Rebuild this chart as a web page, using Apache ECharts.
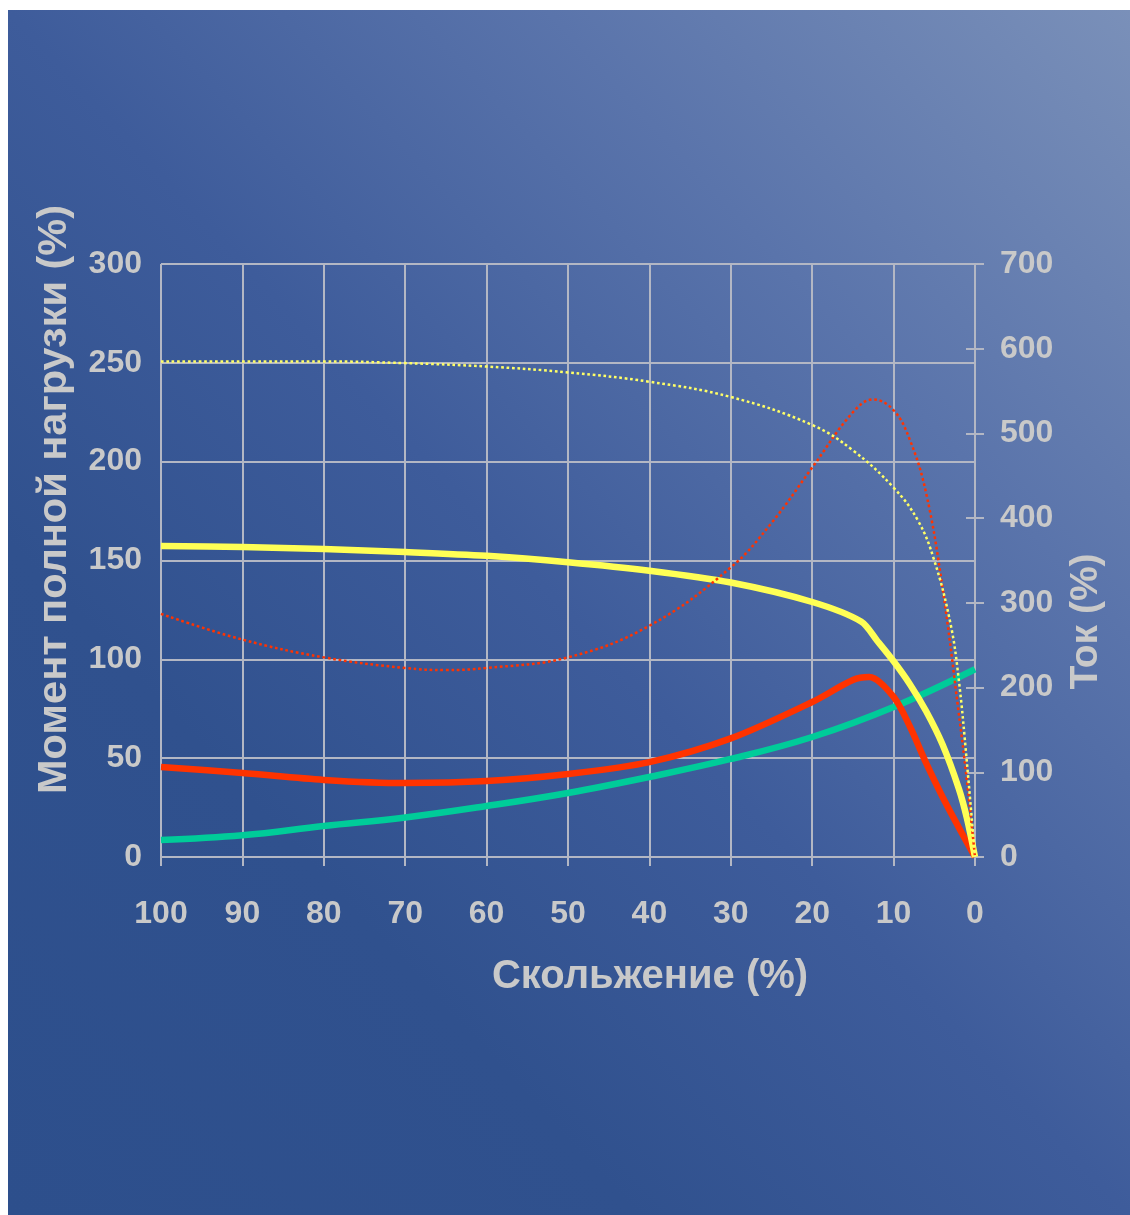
<!DOCTYPE html>
<html>
<head>
<meta charset="utf-8">
<script src="https://cdn.jsdelivr.net/npm/echarts@6/dist/echarts.min.js"></script>
<style>
  html, body { margin: 0; padding: 0; background: #ffffff; }
  #bg {
    position: absolute; left: 8px; top: 10px; width: 1122px; height: 1205px;
    background: linear-gradient(to top right, #2d4f8c 0%, #30518e 28%, #3e5c9b 50%, #5a74ab 74%, #7a90b9 100%);
  }
  #chart { position: absolute; left: 0; top: 0; width: 1130px; height: 1215px; }
</style>
</head>
<body>
<div id="bg"></div>
<div id="chart"></div>
<script>
// Load torque (%), left axis - green
const slipLoad = [100, 90, 80, 70, 60, 50, 40, 30, 20, 10, 0];
const loadTorque = [8.6, 11, 15.7, 20, 25.8, 32.4, 40.5, 49.6, 60.7, 75.9, 95];

// Torque with soft start (%), left axis - red solid
const slipTorqueSoft = [100, 90, 80, 70, 60, 50, 40, 30, 20, 15, 13, 10, 8, 6, 4, 2, 0];
const torqueSoft = [45.5, 42.5, 39, 37.4, 38.4, 42, 48, 60, 78.4, 89.5, 91, 81, 66, 47.5, 30.5, 15, 0];

// Current with soft start (%), right axis - yellow solid
const slipCurrentSoft = [100, 90, 80, 70, 60, 50, 40, 30, 20, 14, 12, 10, 8, 6, 4, 2, 1, 0];
const currentSoft = [367, 366, 363.5, 360, 355.5, 348, 338, 324, 301, 278, 255, 231, 204, 172, 133, 81, 46, 0];

// Torque at full voltage (%), left axis - red dotted
const slipTorqueDOL = [100, 90, 80, 70, 65, 60, 50, 40, 30, 25, 20, 15, 12.5, 10, 8, 6, 4, 2, 1, 0];
const torqueDOL = [123, 110, 101, 95.6, 94.6, 95.6, 101, 117, 146.5, 169, 197, 225, 231.5, 226, 211, 184, 136.5, 73, 39, 0];

// Current at full voltage (%), right axis - yellow dotted
const slipCurrentDOL = [100, 90, 80, 70, 60, 50, 40, 30, 20, 15, 10, 7, 5, 3, 2, 1, 0];
const currentDOL = [585, 585, 585, 583, 579, 572, 561, 543, 510, 480, 436, 397, 350, 275, 210, 112, 0];

const leftTicks = ['0', '50', '100', '150', '200', '250', '300'];
const rightTicks = ['0', '100', '200', '300', '400', '500', '600', '700'];

const pair = (xs, vals) => xs.map((s, i) => [s, vals[i]]);

const gridColor = '#b3b7c4';
const textColor = '#c9c9c9';
const fontFam = '"Liberation Sans", Arial, sans-serif';

const chart = echarts.init(document.getElementById('chart'), null, { renderer: 'canvas' });
chart.setOption({
  backgroundColor: 'transparent',
  animation: false,
  grid: { left: 161, right: 155, top: 264, bottom: 358, containLabel: false },
  xAxis: {
    type: 'value', inverse: true, min: 0, max: 100, interval: 10,
    name: 'Скольжение (%)', nameLocation: 'middle', nameGap: 100,
    nameTextStyle: { color: textColor, fontSize: 40, fontWeight: 'bold', fontFamily: fontFam, padding: [0, 0, 0, 164] },
    axisLine: { show: true, lineStyle: { color: gridColor, width: 2 } },
    axisTick: { show: true, length: 9, lineStyle: { color: gridColor, width: 2 } },
    splitLine: { show: true, lineStyle: { color: gridColor, width: 2 } },
    axisLabel: { color: textColor, fontSize: 32, fontWeight: 'bold', fontFamily: fontFam, margin: 41 }
  },
  yAxis: [
    {
      type: 'value', position: 'left', min: 0, max: 300, interval: 50,
      name: 'Момент полной нагрузки (%)', nameLocation: 'middle', nameGap: 85, nameRotate: 90,
      nameTextStyle: { color: textColor, fontSize: 41.5, fontWeight: 'bold', fontFamily: fontFam, padding: [0, 0, 0, 122] },
      axisLine: { show: true, lineStyle: { color: gridColor, width: 2 } },
      axisTick: { show: true, length: 9, lineStyle: { color: gridColor, width: 2 } },
      splitLine: { show: true, lineStyle: { color: gridColor, width: 2 } },
      axisLabel: { color: textColor, fontSize: 32, fontWeight: 'bold', fontFamily: fontFam, margin: 19,
        formatter: (v) => leftTicks[Math.round(v / 50)] }
    },
    {
      type: 'value', position: 'right', min: 0, max: 700, interval: 100,
      name: 'Ток (%)', nameLocation: 'middle', nameGap: 92, nameRotate: 90,
      nameTextStyle: { color: textColor, fontSize: 39, fontWeight: 'bold', fontFamily: fontFam, padding: [0, 122, 0, 0] },
      axisLine: { show: true, lineStyle: { color: gridColor, width: 2 } },
      axisTick: { show: true, length: 9, lineStyle: { color: gridColor, width: 2 } },
      splitLine: { show: false },
      axisLabel: { color: textColor, fontSize: 32, fontWeight: 'bold', fontFamily: fontFam, margin: 25,
        formatter: (v) => rightTicks[Math.round(v / 100)] }
    },
    {
      type: 'value', position: 'right', min: 0, max: 700, interval: 100,
      axisLine: { show: false },
      axisTick: { show: true, inside: true, length: 9, lineStyle: { color: gridColor, width: 2 } },
      splitLine: { show: false },
      axisLabel: { show: false }
    }
  ],
  series: [
    { name: 'Нагрузка', type: 'line', yAxisIndex: 0, data: pair(slipLoad, loadTorque), smooth: 0.4, symbol: 'none',
      lineStyle: { color: '#00cc99', width: 6.5 } },
    { name: 'Момент (плавный пуск)', type: 'line', yAxisIndex: 0, data: pair(slipTorqueSoft, torqueSoft), smooth: 0.3, symbol: 'none',
      lineStyle: { color: '#ff3300', width: 6.5 } },
    { name: 'Ток (плавный пуск)', type: 'line', yAxisIndex: 1, data: pair(slipCurrentSoft, currentSoft), smooth: 0.3, symbol: 'none',
      lineStyle: { color: '#ffff55', width: 6.5 } },
    { name: 'Момент (прямой пуск)', type: 'line', yAxisIndex: 0, data: pair(slipTorqueDOL, torqueDOL), smooth: 0.4, symbol: 'none',
      lineStyle: { color: '#ff3300', width: 2.5, type: [2.7, 2.7] } },
    { name: 'Ток (прямой пуск)', type: 'line', yAxisIndex: 1, data: pair(slipCurrentDOL, currentDOL), smooth: 0.4, symbol: 'none',
      lineStyle: { color: '#ffff66', width: 2.5, type: [2.7, 2.7] } }
  ]
});
</script>
</body>
</html>
